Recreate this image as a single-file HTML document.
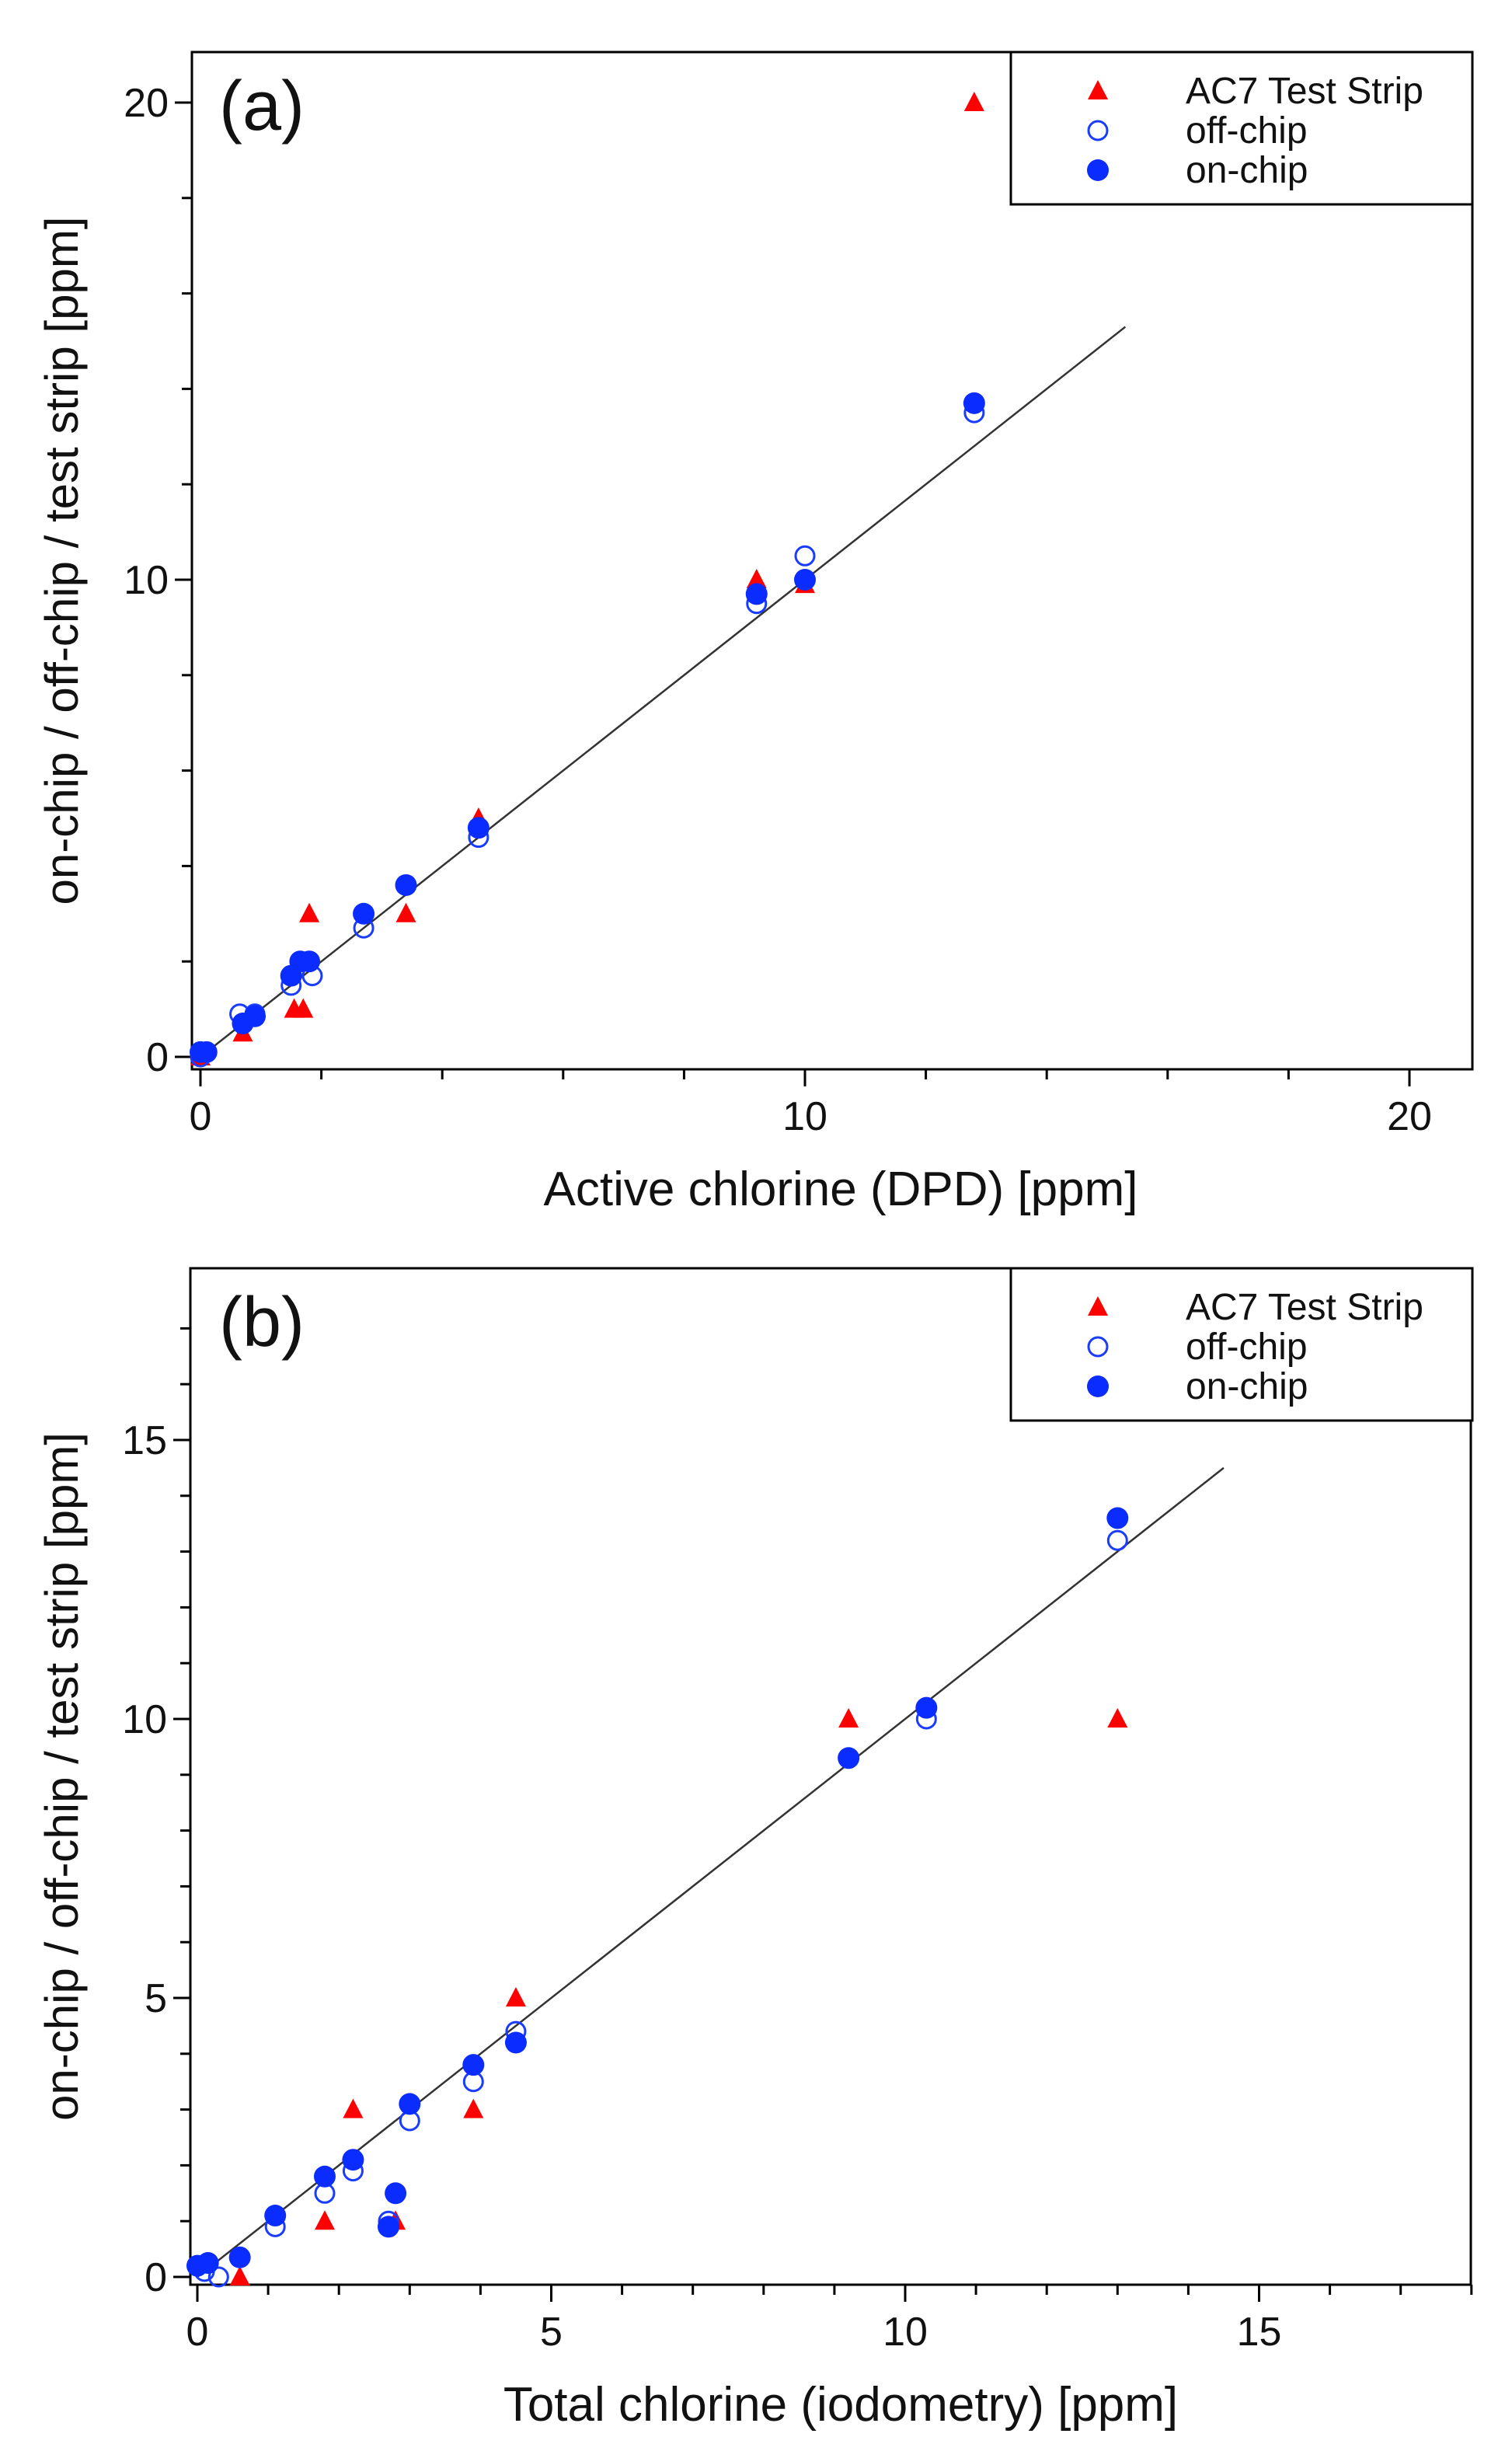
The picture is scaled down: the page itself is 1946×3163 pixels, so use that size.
<!DOCTYPE html>
<html><head><meta charset="utf-8"><style>
html,body{margin:0;padding:0;background:#fff;}
svg{display:block;font-family:"Liberation Sans",Arial,sans-serif;}
</style></head><body>
<svg id="chart" width="1946" height="3163" viewBox="0 0 1946 3163" xmlns="http://www.w3.org/2000/svg"></svg>
<script>
// Panel (a) data
const aTriX = [12.8, 9.2, 10, 4.6, 3.4, 1.8, 1.55, 1.7, 0.7, 0];
const aTriY = [20, 10, 9.9, 5, 3, 3, 1, 1, 0.5, 0];
const aOffX = [12.8, 10, 9.2, 4.6, 3.4, 2.7, 1.85, 1.5, 0.65, 0.9, 0.1, 0];
const aOffY = [13.5, 10.5, 9.5, 4.6, 3.6, 2.7, 1.7, 1.5, 0.9, 0.9, 0.1, 0];
const aOnX = [12.8, 10, 9.2, 4.6, 3.4, 2.7, 1.8, 1.65, 1.5, 0.9, 0.7, 0.1, 0];
const aOnY = [13.7, 10, 9.7, 4.8, 3.6, 3, 2, 2, 1.7, 0.85, 0.7, 0.1, 0.1];
const aFit = [0, 15.3];
const aXTicks = [0, 10, 20];
const aYTicks = [0, 10, 20];
// Panel (b) data
const bTriX = [13, 9.2, 4.5, 3.9, 2.2, 1.8, 2.8, 0.6];
const bTriY = [10, 10, 5, 3, 3, 1, 1, 0];
const bOffX = [13, 10.3, 9.2, 4.5, 3.9, 3, 2.2, 1.8, 1.1, 2.7, 0.3, 0.1];
const bOffY = [13.2, 10, 9.3, 4.4, 3.5, 2.8, 1.9, 1.5, 0.9, 1, 0, 0.1];
const bOnX = [13, 10.3, 9.2, 4.5, 3.9, 3, 2.2, 1.8, 1.1, 2.8, 2.7, 0.6, 0.15, 0];
const bOnY = [13.6, 10.2, 9.3, 4.2, 3.8, 3.1, 2.1, 1.8, 1.1, 1.5, 0.9, 0.35, 0.25, 0.2];
const bFit = [0, 14.5];
const bXTicks = [0, 5, 10, 15];
const bYTicks = [0, 5, 10, 15];

const NS = "http://www.w3.org/2000/svg";
const svg = document.getElementById("chart");
function mk(tag, attrs, parent, text) {
  const e = document.createElementNS(NS, tag);
  for (const k in attrs) e.setAttribute(k, attrs[k]);
  if (text !== undefined) e.textContent = text;
  (parent || svg).appendChild(e);
  return e;
}

function panel(cfg) {
  const g = mk("g", {});
  
  
  const sx = v => cfg.x0 + (v) * cfg.px;
  const sy = v => cfg.y0 - (v) * cfg.py;
  const fr = mk("rect", {x: cfg.L, y: cfg.T, width: cfg.R - cfg.L, height: cfg.B - cfg.T, fill: "none", stroke: "#000", "stroke-width": 3}, g);
  
  
  for (let v = 0; v <= cfg.xMax + 1e-9; v += cfg.xMinor) {
    const major = Math.abs(v / cfg.xMajor - Math.round(v / cfg.xMajor)) < 1e-6;
    const t = mk("line", {x1: sx(v), x2: sx(v), y1: cfg.B, y2: cfg.B + (major ? 22 : 13), stroke: "#000", "stroke-width": 3}, g);
    
    
  }
  for (let v = 0; v <= cfg.yMax + 1e-9; v += cfg.yMinor) {
    const major = Math.abs(v / cfg.yMajor - Math.round(v / cfg.yMajor)) < 1e-6;
    const t = mk("line", {x1: cfg.L, x2: cfg.L - (major ? 22 : 13), y1: sy(v), y2: sy(v), stroke: "#000", "stroke-width": 3}, g);
    
    
  }
  cfg.xTicks.forEach(v => {
    const t = mk("text", {x: sx(v), y: cfg.B + 78, "font-size": 52, "text-anchor": "middle", fill: "#111"}, g, String(v));
    
    
  });
  cfg.yTicks.forEach(v => {
    const t = mk("text", {x: cfg.L - 30, y: sy(v) + 18, "font-size": 52, "text-anchor": "end", fill: "#111"}, g, String(v));
    
    
  });
  const xt = mk("text", {x: cfg.xTitleX, y: cfg.B + 175, "font-size": 62, "text-anchor": "middle", fill: "#111"}, g, cfg.xTitle);
  
  
  const yc = (cfg.T + cfg.B) / 2;
  const yt = mk("text", {x: 0, y: 0, "font-size": 60, "text-anchor": "middle", fill: "#111", transform: `translate(100,${yc}) rotate(-90)`}, g, "on-chip / off-chip / test strip [ppm]");
  
  
  const pl = mk("text", {x: 282, y: cfg.T + 100, "font-size": 90, fill: "#111"}, g, cfg.label);
  
  
  const fl = mk("line", {x1: sx(cfg.fit[0]), y1: sy(cfg.fit[0]), x2: sx(cfg.fit[1]), y2: sy(cfg.fit[1]), stroke: "#333", "stroke-width": 2.5}, g);
  
  
  const tri = (cx, cy, parent) => mk("polygon", {points: `${cx},${cy-14} ${cx-13},${cy+11} ${cx+13},${cy+11}`, fill: "#f00"}, parent);
  cfg.triX.forEach((v, i) => {
    const m = tri(sx(v), sy(cfg.triY[i]), g);
    
    
  });
  cfg.offX.forEach((v, i) => {
    const m = mk("circle", {cx: sx(v), cy: sy(cfg.offY[i]), r: 12, fill: "none", stroke: "#1a3cff", "stroke-width": 3}, g);
    
    
  });
  cfg.onX.forEach((v, i) => {
    const m = mk("circle", {cx: sx(v), cy: sy(cfg.onY[i]), r: 14, fill: "#0a2cff"}, g);
    
    
  });
  const lg = mk("g", {}, g);
  
  
  mk("rect", {x: 1301, y: cfg.T, width: 594, height: 196, fill: "#fff", stroke: "#000", "stroke-width": 3}, lg);
  const rows = [cfg.T + 50, cfg.T + 101, cfg.T + 152];
  const e1 = tri(1413, rows[0], lg);
  
  
  const e2 = mk("circle", {cx: 1413, cy: rows[1], r: 12, fill: "none", stroke: "#1a3cff", "stroke-width": 3}, lg);
  
  
  const e3 = mk("circle", {cx: 1413, cy: rows[2], r: 14, fill: "#0a2cff"}, lg);
  
  
  ["AC7 Test Strip", "off-chip", "on-chip"].forEach((s, i) => {
    const t = mk("text", {x: 1526, y: rows[i] + 16, "font-size": 48, fill: "#111"}, lg, s);
    
    
  });
}

panel({name: "panel-a", label: "(a)", L: 247, R: 1895, T: 67, B: 1376,
  x0: 258, px: 77.8, y0: 1360, py: 61.4, xMax: 21, yMax: 20.8,
  xMinor: 2, xMajor: 10, yMinor: 2, yMajor: 10,
  xTicks: aXTicks, yTicks: aYTicks, xTitle: "Active chlorine (DPD) [ppm]", xTitleX: 1082,
  triX: aTriX, triY: aTriY, offX: aOffX, offY: aOffY, onX: aOnX, onY: aOnY, fit: aFit});
panel({name: "panel-b", label: "(b)", L: 245, R: 1893, T: 1632, B: 2940,
  x0: 254, px: 91.1, y0: 2930, py: 71.8, xMax: 18, yMax: 17.9,
  xMinor: 1, xMajor: 5, yMinor: 1, yMajor: 5,
  xTicks: bXTicks, yTicks: bYTicks, xTitle: "Total chlorine (iodometry) [ppm]", xTitleX: 1082,
  triX: bTriX, triY: bTriY, offX: bOffX, offY: bOffY, onX: bOnX, onY: bOnY, fit: bFit});
</script>
</body></html>
